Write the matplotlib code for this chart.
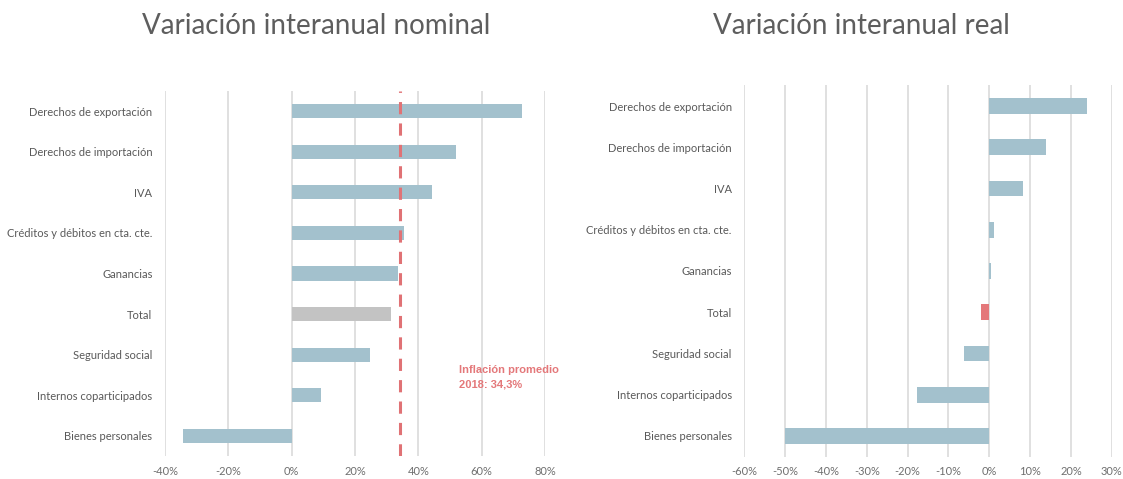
import matplotlib
matplotlib.use("Agg")
import matplotlib.pyplot as plt
from matplotlib.ticker import FuncFormatter
import matplotlib.font_manager as fm

categories = ["Derechos de exportación", "Derechos de importación", "IVA",
              "Créditos y débitos en cta. cte.", "Ganancias", "Total",
              "Seguridad social", "Internos coparticipados", "Bienes personales"]
nominal = [72.6, 51.8, 44.4, 35.5, 33.7, 31.4, 24.7, 9.2, -34.4]
real = [24.0, 13.9, 8.3, 1.2, 0.4, -2.0, -6.1, -17.7, -50.0]
inflation = 34.3
nominal_ticks = [-40, -20, 0, 20, 40, 60, 80]
real_ticks = [-60, -50, -40, -30, -20, -10, 0, 10, 20, 30]

BLUE = "#A3C1CD"
GRAY = "#C3C3C3"
RED = "#E4787A"
TXT = "#595959"
TICK = "#6F6F6F"
GRID = "#DADADA"

names = {f.name for f in fm.fontManager.ttflist}
FONT = "Lato" if "Lato" in names else "DejaVu Sans"
NARROW = "Liberation Sans Narrow" if "Liberation Sans Narrow" in names else "Liberation Sans"

fig = plt.figure(figsize=(11.23, 4.79), dpi=100)

def setup(ax, vals, colors, ticks, hgt):
    y = list(range(len(categories)))
    ax.barh(y, vals, height=hgt, color=colors, zorder=3)
    ax.set_ylim(len(categories) - 0.5, -0.5)
    ax.set_yticks(y)
    ax.set_yticklabels(categories, fontsize=8, color=TXT, family=FONT)
    ax.set_xticks(ticks)
    ax.set_xlim(ticks[0], ticks[-1])
    ax.xaxis.set_major_formatter(FuncFormatter(lambda v, p: f"{v:.0f}%"))
    for lab in ax.get_xticklabels():
        lab.set_fontsize(8)
        lab.set_color(TICK)
        lab.set_family(FONT)
    ax.tick_params(length=0, pad=9)
    ax.tick_params(axis="x", pad=7)
    ax.grid(axis="x", color=GRID, linewidth=1.2, zorder=0)
    for s in ax.spines.values():
        s.set_visible(False)

ax1 = fig.add_axes([0.1469, 0.0474, 0.3384, 0.7632])
c1 = [GRAY if c == "Total" else BLUE for c in categories]
setup(ax1, nominal, c1, nominal_ticks, 0.35)
ax1.axvline(inflation, color="#E07275", linestyle=(0, (4, 3)), linewidth=2.2, zorder=4)
ax1.text(53, 6.55, "Inflación promedio\n2018: 34,3%", color="#E4787A", fontsize=8,
         fontweight="bold", family=NARROW, va="center", ha="left", linespacing=1.6)

ax2 = fig.add_axes([0.6628, 0.0468, 0.3272, 0.7749])
c2 = [RED if c == "Total" else BLUE for c in categories]
setup(ax2, real, c2, real_ticks, 0.38)

fig.text(0.2815, 0.946, "Variación interanual nominal", ha="center", va="center",
         fontsize=20, color="#5E5E5E", family=FONT, fontweight="normal")
fig.text(0.767, 0.946, "Variación interanual real", ha="center", va="center",
         fontsize=20, color="#5E5E5E", family=FONT, fontweight="normal")

fig.savefig("out.png", dpi=100, facecolor="white")
